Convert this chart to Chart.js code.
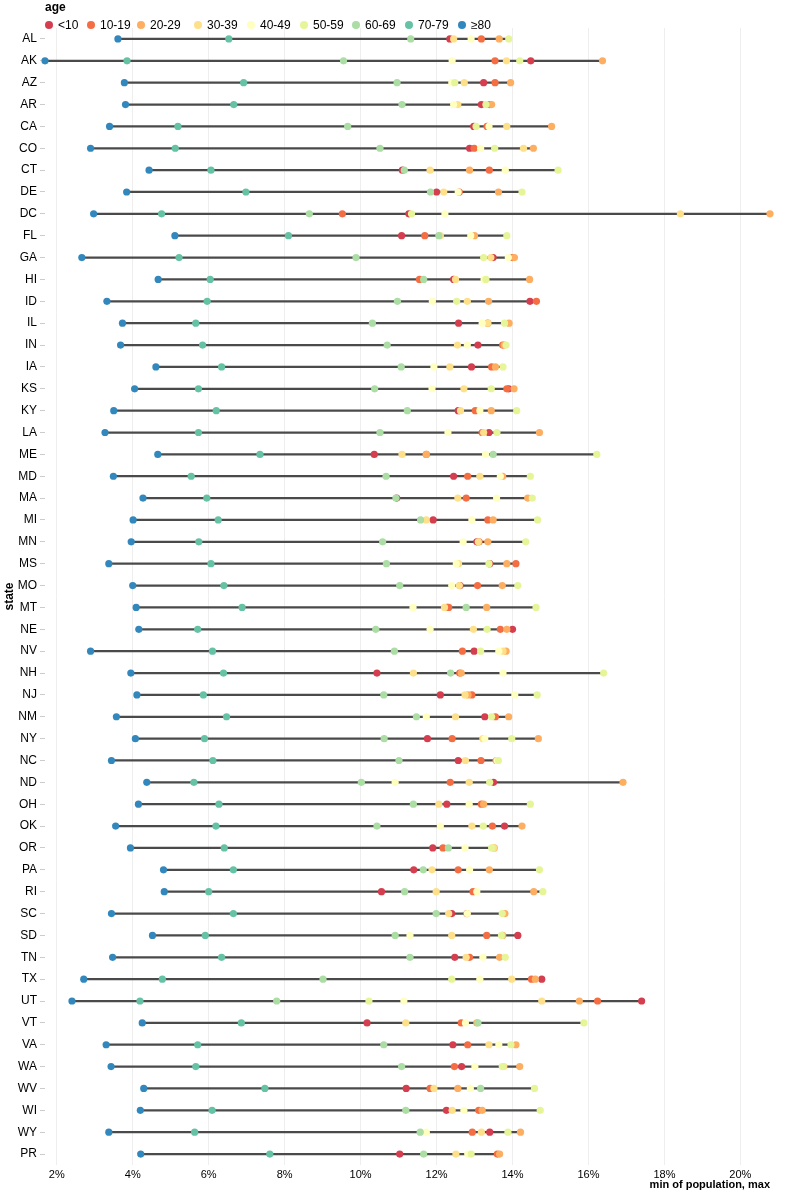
<!DOCTYPE html>
<html>
<head>
<meta charset="utf-8">
<script src="https://cdn.jsdelivr.net/npm/chart.js@4.4.1/dist/chart.umd.min.js"></script>
<style>
  html, body { margin: 0; padding: 0; background: #fff; }
  #wrap { position: relative; width: 800px; height: 1200px; font-family: "Liberation Sans", Arial, Helvetica, sans-serif; }
  #c { position: absolute; left: 0; top: 0; }
  #legend-title { position: absolute; left: 45px; top: 0px; font-size: 12px; font-weight: bold; color: #000; line-height: 14px; }
  .li { position: absolute; top: 18px; height: 14px; font-size: 12px; color: #000; line-height: 14px; white-space: nowrap; }
  .li i { position: absolute; left: -4px; top: 3px; width: 8px; height: 8px; border-radius: 50%; }
  .li span { position: absolute; left: 9px; top: 0; }
</style>
</head>
<body>
<div id="wrap">
  <canvas id="c" width="800" height="1200"></canvas>
  <div id="legend-title">age</div>
  <div id="legend"></div>
</div>
<script>
const states = ["AL","AK","AZ","AR","CA","CO","CT","DE","DC","FL","GA","HI","ID","IL","IN","IA","KS","KY","LA","ME","MD","MA","MI","MN","MS","MO","MT","NE","NV","NH","NJ","NM","NY","NC","ND","OH","OK","OR","PA","RI","SC","SD","TN","TX","UT","VT","VA","WA","WV","WI","WY","PR"];

const ageGroups = ["<10","10-19","20-29","30-39","40-49","50-59","60-69","70-79","≥80"];
const ageColors = ["#d53e4f","#f46d43","#fdae61","#fee08b","#ffffbf","#e6f598","#abdda4","#66c2a5","#3288bd"];

const under10  = [12.35,14.48,13.24,13.18,12.98,12.87,11.10,12.00,11.27,11.08,13.49,12.45,14.46,12.58,13.09,12.92,13.90,12.57,13.38,10.36,12.45,10.95,11.91,13.06,13.40,12.62,12.28,14.00,12.99,10.43,12.10,13.27,11.76,12.57,13.50,12.27,13.79,11.90,11.40,10.55,12.40,14.14,12.48,14.77,17.40,10.17,12.43,12.66,11.20,12.26,13.40,11.03];
const age10_19 = [13.18,13.54,13.54,13.40,13.33,12.99,13.39,12.60,9.52,11.69,14.00,11.55,14.63,13.35,13.74,13.45,13.85,13.02,13.20,11.73,12.82,12.78,13.35,13.12,14.09,13.08,12.32,13.68,12.68,12.61,12.93,13.55,12.41,13.17,12.36,13.18,13.47,12.17,12.57,12.96,12.80,13.32,12.87,14.50,16.24,12.65,12.82,12.47,11.83,13.11,12.94,13.60];
const age20_29 = [13.65,16.37,13.95,13.45,15.03,14.55,12.87,13.63,20.78,13.00,14.05,14.45,13.37,13.91,13.78,13.55,14.04,13.44,14.71,11.73,13.74,14.40,13.49,13.35,13.85,13.73,13.32,13.85,13.83,12.65,12.83,13.90,14.68,13.57,16.91,13.24,14.25,13.52,13.39,14.56,13.80,13.74,13.66,14.60,15.76,13.06,14.09,14.19,12.56,13.20,14.21,13.66];
const age30_39 = [12.45,13.84,12.73,12.56,13.85,14.29,11.83,12.19,18.42,12.10,13.43,12.50,12.81,13.35,12.55,12.35,12.72,12.63,13.24,11.09,13.14,12.56,11.73,13.10,12.58,12.60,12.21,12.97,13.75,11.39,12.75,12.50,13.22,12.76,12.86,12.06,12.93,13.50,11.88,11.99,12.32,12.40,12.78,13.98,14.77,11.19,13.38,13.77,11.93,12.41,13.18,12.51];
const age40_49 = [12.91,12.41,12.40,12.45,13.38,13.16,13.81,12.57,12.22,12.90,13.89,13.25,11.89,13.20,12.81,11.93,11.88,13.14,12.30,13.29,13.68,13.58,12.93,12.70,12.52,12.40,11.38,11.83,13.64,13.75,14.06,11.73,13.27,13.60,10.91,12.86,12.10,12.75,12.87,13.06,12.81,11.30,13.22,13.14,11.14,12.76,13.64,13.01,12.89,12.72,11.73,12.82];
const age50_59 = [13.90,14.19,12.48,13.30,13.04,13.53,15.20,14.25,11.34,13.85,13.24,13.30,12.53,13.79,13.83,13.75,13.44,14.11,13.59,16.22,14.47,14.52,14.66,14.35,13.38,14.14,14.62,13.33,13.16,16.40,14.65,13.45,13.98,13.63,13.40,14.47,13.23,13.45,14.71,14.80,13.73,13.71,13.81,12.40,10.22,15.88,13.96,13.73,14.58,14.73,13.88,12.91];
const age60_69 = [11.32,9.55,10.96,11.09,9.66,10.51,11.15,11.84,8.65,12.06,9.88,11.66,10.97,10.31,10.70,11.07,10.37,11.23,10.51,13.49,10.67,10.93,11.58,10.58,10.68,11.03,12.78,10.40,10.89,12.37,10.61,11.47,10.62,11.01,10.02,11.39,10.43,12.31,11.65,11.16,11.99,10.91,11.30,9.01,7.79,13.09,10.61,11.08,13.16,11.19,11.57,11.66];
const age70_79 = [6.53,3.85,6.92,6.66,5.19,5.12,6.06,6.98,4.76,8.10,5.22,6.04,5.96,5.66,5.84,6.34,5.73,6.20,5.73,7.35,5.54,5.95,6.25,5.74,6.06,6.40,6.88,5.71,6.10,6.39,5.86,6.47,5.89,6.11,5.61,6.27,6.19,6.41,6.65,6.00,6.65,5.91,6.34,4.78,4.19,6.86,5.71,5.66,7.48,6.09,5.63,7.61];
const age80plus = [3.61,1.69,3.78,3.81,3.39,2.89,4.43,3.84,2.97,5.11,2.66,4.67,3.32,3.73,3.68,4.61,4.05,3.50,3.27,4.66,3.49,4.27,4.01,3.96,3.37,4.00,4.09,4.16,2.89,3.95,4.11,3.57,4.07,3.44,4.37,4.15,3.55,3.94,4.81,4.83,3.44,4.52,3.47,2.71,2.40,4.25,3.30,3.43,4.29,4.20,3.37,4.21];

const xTickValues = [2,4,6,8,10,12,14,16,18,20];

const seriesValues = [under10, age10_19, age20_29, age30_39, age40_49, age50_59, age60_69, age70_79, age80plus];

// min/max per state for the range line
const ranges = states.map((s, i) => {
  const vals = seriesValues.map(arr => arr[i]);
  return [Math.min(...vals), Math.max(...vals)];
});
const allVals = seriesValues.flat();
const xMin = Math.min(...allVals);
const xMax = Math.max(...allVals);

// HTML legend
const legendX = [49, 91, 141, 198, 251, 304, 356, 409, 462];
const legendEl = document.getElementById('legend');
ageGroups.forEach((g, k) => {
  const d = document.createElement('div');
  d.className = 'li';
  d.style.left = legendX[k] + 'px';
  const dot = document.createElement('i');
  dot.style.background = ageColors[k];
  const t = document.createElement('span');
  t.textContent = g;
  d.appendChild(dot); d.appendChild(t);
  legendEl.appendChild(d);
});

const datasets = [{
  type: 'bar',
  indexAxis: 'y',
  label: 'range',
  data: ranges,
  backgroundColor: '#4a4a4a',
  borderWidth: 0,
  barThickness: 1.6,
  clip: false,
  order: 20
}];
ageGroups.forEach((g, k) => {
  datasets.push({
    type: 'scatter',
    label: g,
    data: states.map((s, i) => ({ x: seriesValues[k][i], y: s })),
    backgroundColor: ageColors[k],
    borderWidth: 0,
    pointRadius: 3.6,
    pointHoverRadius: 3.6,
    clip: false,
    order: 9 - k
  });
});

const FONT = '"Liberation Sans", Arial, Helvetica, sans-serif';

new Chart(document.getElementById('c'), {
  type: 'scatter',
  data: { labels: states, datasets },
  options: {
    responsive: false,
    animation: false,
    devicePixelRatio: 1,
    layout: { padding: { top: 28, right: 30, left: 0, bottom: 0 } },
    plugins: { legend: { display: false }, tooltip: { enabled: false } },
    scales: {
      x: {
        type: 'linear',
        position: 'bottom',
        min: xMin,
        max: xMax,
        afterBuildTicks: (scale) => { scale.ticks = xTickValues.map(v => ({ value: v })); },
        afterFit: (scale) => { scale.height = 35; },
        grid: { color: '#eeeeee', lineWidth: 1, drawTicks: false },
        border: { display: false },
        ticks: {
          padding: 3,
          color: '#000',
          font: { family: FONT, size: 11 },
          callback: (v) => v + '%',
          maxRotation: 0
        },
        title: {
          display: true,
          text: 'min of population, max',
          align: 'end',
          color: '#000',
          font: { family: FONT, size: 11, weight: 'bold' },
          padding: { top: 0, bottom: 8 }
        }
      },
      y: {
        type: 'category',
        labels: states,
        offset: true,
        afterFit: (scale) => { scale.width = 45; },
        grid: { offset: false, drawOnChartArea: false, drawTicks: true, tickLength: 5, color: '#cccccc' },
        border: { display: false },
        ticks: {
          padding: 3,
          color: '#000',
          autoSkip: false,
          font: { family: FONT, size: 12 }
        },
        title: {
          display: true,
          text: 'state',
          color: '#000',
          font: { family: FONT, size: 12, weight: 'bold' },
          padding: { top: 2, bottom: 0 }
        }
      }
    }
  }
});
</script>
</body>
</html>
